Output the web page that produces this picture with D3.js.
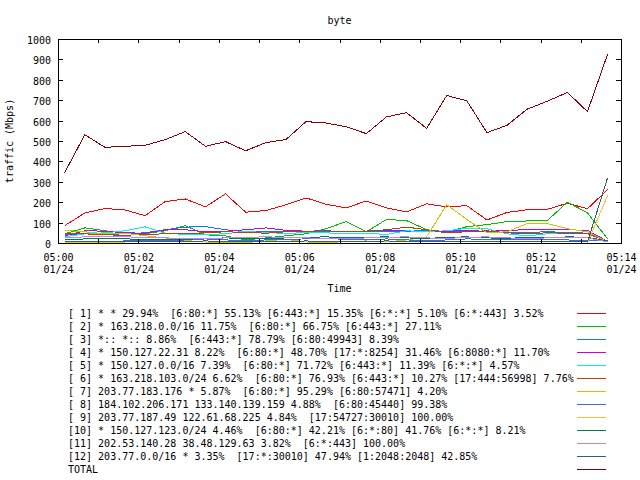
<!DOCTYPE html>
<html><head><meta charset="utf-8">
<script src="https://cdn.jsdelivr.net/npm/d3@7"></script>
<style>
html,body{margin:0;padding:0;background:#fff;}
svg{display:block;font-family:'DejaVu Sans Mono',monospace;font-size:10px;}
text{fill:#000;white-space:pre;}
</style></head><body>
<svg id="c" width="640" height="480"></svg>
<script>
const titleText = "byte";
const yLabel = "traffic (Mbps)";
const xLabel = "Time";
const dateStr = "2024-01-24";
const times = ["05:00:10","05:00:40","05:01:10","05:01:40","05:02:10","05:02:40","05:03:10","05:03:40","05:04:10","05:04:40","05:05:10","05:05:40","05:06:10","05:06:40","05:07:10","05:07:40","05:08:10","05:08:40","05:09:10","05:09:40","05:10:10","05:10:40","05:11:10","05:11:40","05:12:10","05:12:40","05:13:10","05:13:40"];
const xTickLabels = ["05:00","05:02","05:04","05:06","05:08","05:10","05:12","05:14"];
const xDateLabel = "01/24";
const yTicks = [0,100,200,300,400,500,600,700,800,900,1000];

const s1  = [85,147,169,162,134,203,216,177,241,151,159,187,221,190,172,206,172,152,192,177,183,113,150,163,165,195,168,262];
const s2  = [45,74,60,50,45,60,85,40,35,15,25,35,45,70,105,55,115,110,65,55,80,90,105,108,110,200,148,20];
const s3  = [40,45,42,45,50,65,78,80,65,55,55,58,56,55,58,56,55,58,60,58,55,55,52,52,55,52,48,10];
const s4  = [35,60,58,50,48,65,65,55,58,65,74,62,58,60,55,58,62,60,55,58,60,58,62,65,65,65,62,8];
const s5  = [30,45,50,60,79,48,42,42,45,58,50,48,50,50,45,48,42,60,55,60,72,70,45,35,45,48,45,8];
const s6  = [48,45,40,38,42,45,45,50,55,52,48,55,58,60,55,58,65,78,65,50,55,60,50,45,50,48,45,8];
const s7  = [62,55,45,48,35,25,12,5,0,2,10,18,5,0,8,10,5,15,30,188,115,50,55,95,95,70,55,5];
const s8  = [5,5,8,10,12,10,15,20,15,12,15,18,20,22,18,15,20,15,12,15,20,18,15,15,18,15,12,10];
const s9  = [2,2,2,0,0,0,0,0,0,0,0,0,0,0,0,0,0,0,0,0,0,0,0,0,0,0,0,233];
const s10 = [15,20,22,20,18,15,18,22,25,22,20,25,28,30,25,28,30,25,22,28,30,25,22,28,25,30,28,10];
const s11 = [25,30,32,30,28,25,22,20,25,28,30,28,25,22,20,25,28,30,25,22,28,30,25,22,25,28,25,5];
const s12 = [5,5,8,8,5,5,8,10,8,5,5,8,10,8,5,8,10,8,5,5,8,8,5,5,8,5,5,320];
const total = [345,531,469,474,479,507,546,474,497,452,492,507,595,588,570,536,618,639,562,723,697,541,577,656,695,738,644,926];

const legendLabels = [
"[ 1] * * 29.94%  [6:80:*] 55.13% [6:443:*] 15.35% [6:*:*] 5.10% [6:*:443] 3.52%",
"[ 2] * 163.218.0.0/16 11.75%  [6:80:*] 66.75% [6:443:*] 27.11%",
"[ 3] *:: *:: 8.86%  [6:443:*] 78.79% [6:80:49943] 8.39%",
"[ 4] * 150.127.22.31 8.22%  [6:80:*] 48.70% [17:*:8254] 31.46% [6:8080:*] 11.70%",
"[ 5] * 150.127.0.0/16 7.39%  [6:80:*] 71.72% [6:443:*] 11.39% [6:*:*] 4.57%",
"[ 6] * 163.218.103.0/24 6.62%  [6:80:*] 76.93% [6:443:*] 10.27% [17:444:56998] 7.76%",
"[ 7] 203.77.183.176 * 5.87%  [6:80:*] 95.29% [6:80:57471] 4.20%",
"[ 8] 184.102.206.171 133.140.139.159 4.88%  [6:80:45440] 99.38%",
"[ 9] 203.77.187.49 122.61.68.225 4.84%  [17:54727:30010] 100.00%",
"[10] * 150.127.123.0/24 4.46%  [6:80:*] 42.21% [6:*:80] 41.76% [6:*:*] 8.21%",
"[11] 202.53.140.28 38.48.129.63 3.82%  [6:*:443] 100.00%",
"[12] 203.77.0.0/16 * 3.35%  [17:*:30010] 47.94% [1:2048:2048] 42.85%",
"TOTAL"
];
const colors = ["#ff0000","#00c000","#0080ff","#c000ff","#00eeee","#c04000","#c8c800","#4169e1","#ffc020","#008040","#c080ff","#306080","#8b0000"];
const seriesList = [s1,s2,s3,s4,s5,s6,s7,s8,s9,s10,s11,s12,total];

const parse = d3.utcParse("%Y-%m-%d %H:%M:%S");
const tParse = d3.utcParse("%Y-%m-%d %H:%M");
const tData = times.map(t => parse(dateStr + " " + t));
const tTicks = xTickLabels.map(t => tParse(dateStr + " " + t));

const svg = d3.select("#c");
const L = 58, R = 621, T = 39, B = 243;
const x = d3.scaleUtc().domain([tTicks[0], tTicks[tTicks.length-1]]).range([L, R]);
const y = d3.scaleLinear().domain([0, 1000]).range([B, T]);

// lines
const line = d3.line().x((d,i) => x(tData[i])).y(d => y(d));
const gLines = svg.append("g");
seriesList.forEach((s, k) => {
  gLines.append("path").datum(s).attr("d", line)
    .attr("fill","none").attr("stroke", colors[k]).attr("stroke-width",1)
    .attr("shape-rendering","crispEdges");
});

// axes (ticks inward, mirrored)
const minuteTicks = d3.utcMinute.range(tTicks[0], d3.utcMinute.offset(tTicks[tTicks.length-1], 1));
const styleAxis = g => { g.select(".domain").remove(); g.selectAll("line").attr("stroke","#000").attr("shape-rendering","crispEdges"); };
svg.append("g").attr("transform",`translate(0,${B})`)
  .call(d3.axisBottom(x).tickValues(minuteTicks).tickSize(-4).tickFormat(""))
  .call(styleAxis).selectAll("text").remove();
svg.append("g").attr("transform",`translate(0,${T})`)
  .call(d3.axisTop(x).tickValues(minuteTicks).tickSize(-4).tickFormat(""))
  .call(styleAxis).selectAll("text").remove();
const yAxisG = svg.append("g").attr("transform",`translate(${L},0)`)
  .call(d3.axisLeft(y).tickValues(yTicks).tickSize(-5).tickPadding(7).tickFormat(d3.format("d")))
  .call(styleAxis);
yAxisG.selectAll("text").attr("fill","#000").attr("dy","0.45em")
  .style("font-family","'DejaVu Sans Mono',monospace").style("font-size","10px");
svg.append("g").attr("transform",`translate(${R},0)`)
  .call(d3.axisRight(y).tickValues(yTicks).tickSize(-5).tickFormat(""))
  .call(styleAxis).selectAll("text").remove();

// frame
svg.append("rect").attr("x",L+0.5).attr("y",T+0.5).attr("width",R-L).attr("height",B-T)
  .attr("fill","none").attr("stroke","#000").attr("shape-rendering","crispEdges");

// x tick labels (two lines)
const xl = svg.append("g");
tTicks.forEach((t,i) => {
  xl.append("text").attr("x", x(t)+0.5).attr("y", 261).attr("text-anchor","middle").text(xTickLabels[i]);
  xl.append("text").attr("x", x(t)+0.5).attr("y", 273).attr("text-anchor","middle").text(xDateLabel);
});

// titles
svg.append("text").attr("x",(L+R)/2).attr("y",24).attr("text-anchor","middle").text(titleText);
svg.append("text").attr("x",(L+R)/2).attr("y",292).attr("text-anchor","middle").text(xLabel);
svg.append("text").attr("transform",`translate(13,${(T+B)/2}) rotate(-90)`).attr("text-anchor","middle").text(yLabel);

// legend
const lg = svg.append("g");
legendLabels.forEach((lab,k) => {
  const cy = 312.7 + 13.05*k;
  lg.append("text").attr("x",68).attr("y",cy+4).text(lab);
  lg.append("line").attr("x1",577).attr("x2",606).attr("y1",Math.round(cy)+0.5).attr("y2",Math.round(cy)+0.5)
    .attr("stroke",colors[k]).attr("stroke-width",1).attr("shape-rendering","crispEdges");
});
</script>
</body></html>
